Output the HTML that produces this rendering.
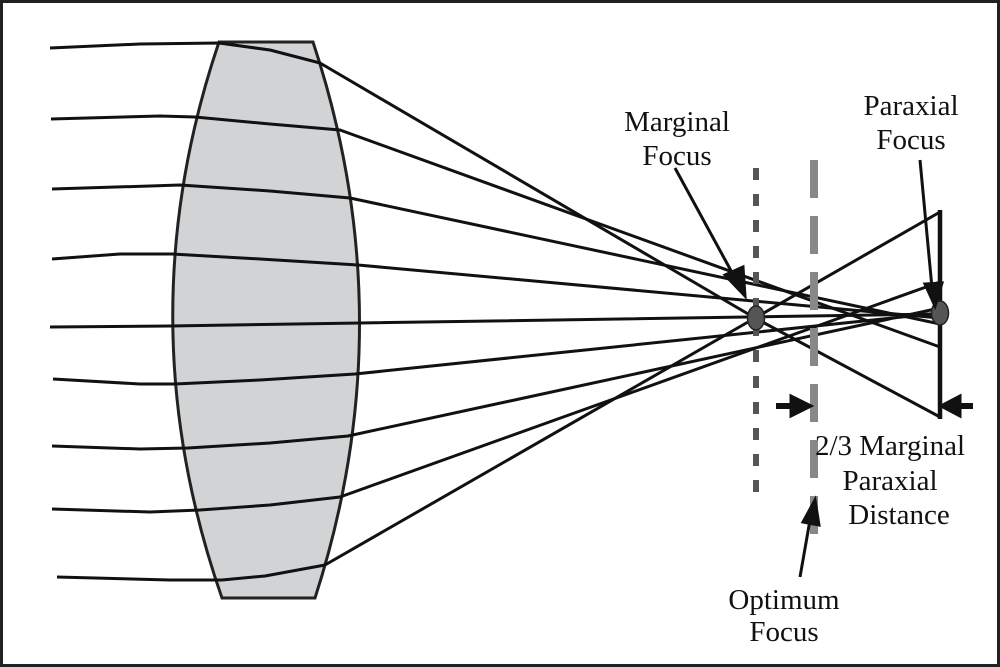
<!DOCTYPE html>
<html><head><style>html,body{margin:0;padding:0;background:#fff}svg{display:block}</style></head>
<body>
<svg width="1000" height="667" viewBox="0 0 1000 667" xmlns="http://www.w3.org/2000/svg">
<rect x="1.5" y="1.5" width="997" height="664" fill="#fff" stroke="#222" stroke-width="3"/>
<path d="M219,42 L313,42 Q405,320 315,598 L222,598 Q125,320 219,42 Z" fill="#d1d3d4" stroke="#222" stroke-width="3"/>
<g fill="none" stroke="#111" stroke-width="3" stroke-linejoin="round">
<polyline points="50,48 140,44 219,43 270,50 320,63 755,318 940,417"/>
<polyline points="51,119 160,116 195,117 270,124 340,130 940,347"/>
<polyline points="52,189 150,186 180,185 270,191 350,198 940,324"/>
<polyline points="52,259 120,254 172,254 260,259 358,265 940,318"/>
<polyline points="50,327 170,326 360,323 940,314"/>
<polyline points="53,379 140,384 175,384 260,380 355,374 940,313"/>
<polyline points="52,446 140,449 188,448 270,443 348,436 940,308"/>
<polyline points="52,509 150,512 200,510 270,505 340,497 940,282"/>
<polyline points="57,577 170,580 222,580 265,576 325,565 755,318 940,212"/>
</g>
<line x1="756" y1="168" x2="756" y2="496" stroke="#555" stroke-width="6" stroke-dasharray="12,14"/>
<line x1="814" y1="160" x2="814" y2="542" stroke="#888" stroke-width="8" stroke-dasharray="38,18"/>
<line x1="940" y1="210" x2="940" y2="419" stroke="#111" stroke-width="4.5"/>
<ellipse cx="756" cy="318" rx="8.5" ry="12" fill="#555" stroke="#222" stroke-width="1.5"/>
<ellipse cx="940" cy="313" rx="8.5" ry="12" fill="#555" stroke="#222" stroke-width="1.5"/>
<g stroke="#111" stroke-width="3" fill="#111">
<line x1="675" y1="168" x2="735" y2="278"/>
<polygon points="745,296 725,275 743,267"/>
<line x1="920" y1="160" x2="932" y2="288"/>
<polygon points="935,306 925,284 942,283"/>
<line x1="776" y1="406" x2="795" y2="406" stroke-width="6"/>
<polygon points="811,406 791,396 791,416"/>
<line x1="973" y1="406" x2="955" y2="406" stroke-width="6"/>
<polygon points="941,406 960,396 960,416"/>
<line x1="800" y1="577" x2="810" y2="520"/>
<polygon points="815,500 803,522 819,525"/>
</g>
<g font-family="'Liberation Serif',serif" font-size="29" fill="#111" text-anchor="middle">
<text x="677" y="131">Marginal</text>
<text x="677" y="165">Focus</text>
<text x="911" y="115">Paraxial</text>
<text x="911" y="149">Focus</text>
<text x="890" y="455">2/3 Marginal</text>
<text x="890" y="490">Paraxial</text>
<text x="899" y="524">Distance</text>
<text x="784" y="609">Optimum</text>
<text x="784" y="641">Focus</text>
</g>
</svg>
</body></html>
